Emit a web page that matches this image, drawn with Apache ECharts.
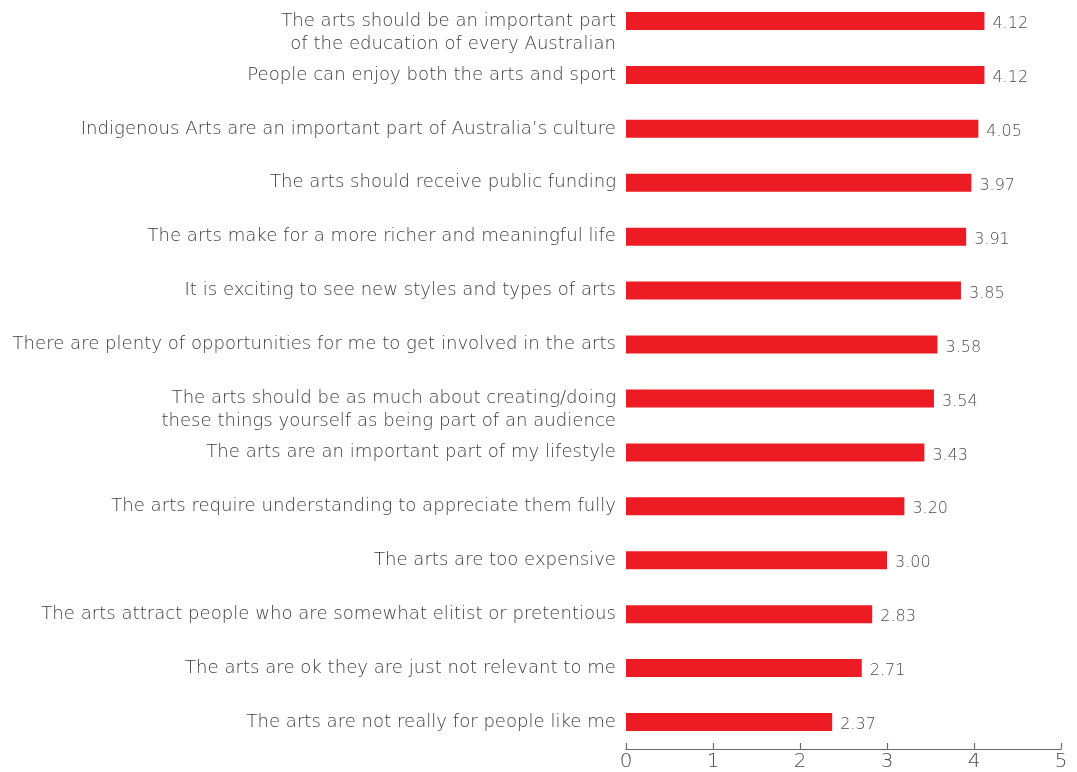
<!DOCTYPE html>
<html>
<head>
<meta charset="utf-8">
<script src="https://cdn.jsdelivr.net/npm/echarts@6/dist/echarts.min.js"></script>
<style>html,body{margin:0;padding:0;background:#fff}#c{width:1077px;height:772px}</style>
</head>
<body>
<div id="c"></div>
<script>
var categories = [
  'The arts should be an important part\nof the education of every Australian',
  'People can enjoy both the arts and sport',
  'Indigenous Arts are an important part of Australia\u2019s culture',
  'The arts should receive public funding',
  'The arts make for a more richer and meaningful life',
  'It is exciting to see new styles and types of arts',
  'There are plenty of opportunities for me to get involved in the arts',
  'The arts should be as much about creating/doing\nthese things yourself as being part of an audience',
  'The arts are an important part of my lifestyle',
  'The arts require understanding to appreciate them fully',
  'The arts are too expensive',
  'The arts attract people who are somewhat elitist or pretentious',
  'The arts are ok they are just not relevant to me',
  'The arts are not really for people like me'
];
var values = [4.12, 4.12, 4.05, 3.97, 3.91, 3.85, 3.58, 3.54, 3.43, 3.20, 3.00, 2.83, 2.71, 2.37];
var xTicks = [0, 1, 2, 3, 4, 5];

var FONT = 'DejaVu Sans';
var chart = echarts.init(document.getElementById('c'), null, {renderer: 'canvas'});
chart.setOption({
  animation: false,
  grid: {left: 626, right: 16, top: -6, bottom: 23, containLabel: false, outerBoundsMode: 'none'},
  xAxis: {
    type: 'value', min: xTicks[0], max: xTicks[xTicks.length - 1], interval: 1,
    splitLine: {show: false},
    axisLine: {show: true, lineStyle: {color: '#6a6a6a', width: 1.2}},
    axisTick: {show: true, inside: true, length: 6, lineStyle: {color: '#6a6a6a', width: 1.2}},
    axisLabel: {color: '#4a4a4a', fontFamily: FONT, fontWeight: 200, fontSize: 20, margin: 3}
  },
  yAxis: {
    type: 'category', inverse: true,
    data: categories,
    axisLine: {show: false}, axisTick: {show: false},
    axisLabel: {color: '#3c3c3c', fontFamily: FONT, fontWeight: 200, fontSize: 18.1, lineHeight: 23, margin: 10, align: 'right',
      formatter: function (v) { return v.indexOf('\n') >= 0 ? '\n' + v : v; }}
  },
  series: [{
    type: 'bar', data: values, barWidth: 18,
    itemStyle: {color: '#ed1c24'},
    label: {show: true, position: 'right', distance: 8, offset: [0, 3],
      formatter: function (p) { return p.value.toFixed(2); },
      color: '#4a4a4a', fontFamily: FONT, fontWeight: 200, fontSize: 16}
  }]
});
</script>
</body>
</html>
